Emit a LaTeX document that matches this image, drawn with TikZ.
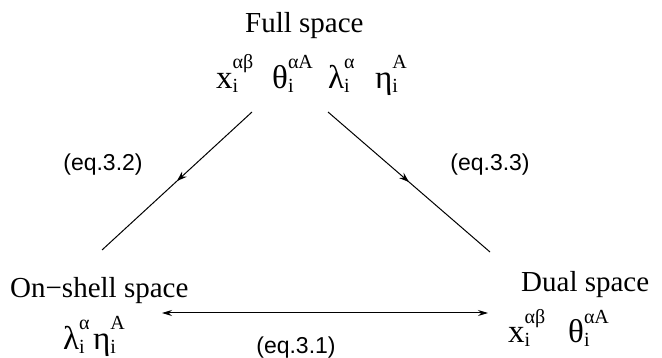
\documentclass[tikz,border=0pt]{standalone}
\usepackage{fontspec}
\setmainfont{Liberation Serif}
\newfontfamily\lsans{Liberation Sans}
\usetikzlibrary{decorations.markings,arrows.meta}
\newcommand\symb[3]{#1\rlap{\raisebox{-4pt}{\fontsize{20}{20}\selectfont #2}}\raisebox{20pt}{\fontsize{20}{20}\selectfont #3}}
\begin{document}
\begin{tikzpicture}[x=1pt,y=-1pt,
  title/.style={font=\fontsize{29}{29}\selectfont, inner sep=0, anchor=base west},
  sym/.style={font=\fontsize{33}{33}\selectfont, inner sep=0, anchor=base west},
  eqlbl/.style={font=\lsans\fontsize{23}{23}\selectfont, inner sep=0},
  conn/.style={line width=1pt},
  midarrow/.style={conn, postaction={decorate}, decoration={markings, mark=at position 0.5 with {\arrow{Stealth[length=10pt,width=7pt]}}}},
  dbl/.style={conn, {Stealth[length=10pt,width=6pt]}-{Stealth[length=10pt,width=6pt]}}]
\useasboundingbox (0,0) rectangle (662,358);

\node[title] (full) at (245,33) {Full space};
\node[title] (onshell) at (10,298) {On−shell space};
\node[title] (dual) at (521,292) {Dual space};

\node[sym] (tx) at (216,89) {\symb{x}{i}{αβ}};
\node[sym] (tth) at (272,89) {\symb{θ}{i}{αA}};
\node[sym] (tla) at (328,89) {\symb{λ}{i}{α}};
\node[sym] (teta) at (375,89) {\symb{η}{i}{A}};

\node[sym] (bla) at (63,349) {\symb{λ}{i}{α}};
\node[sym] (beta) at (93,349) {\symb{η}{i}{A}};

\node[sym] (dx) at (508,343) {\symb{x}{i}{αβ}};
\node[sym] (dth) at (568,343) {\symb{θ}{i}{αA}};

\coordinate (l1) at (252,112);
\coordinate (l2) at (102,250);
\coordinate (r1) at (328,112);
\coordinate (r2) at (490,252);
\coordinate (b1) at (162,313);
\coordinate (b2) at (488,313);

\draw[midarrow] (l1) -- (l2);
\draw[midarrow] (r1) -- (r2);
\draw[dbl] (b1) -- (b2);

\node[eqlbl] (e2) at (103,165) {(eq.3.2)};
\node[eqlbl] (e3) at (490,165) {(eq.3.3)};
\node[eqlbl] (e1) at (296,348) {(eq.3.1)};
\end{tikzpicture}
\end{document}
